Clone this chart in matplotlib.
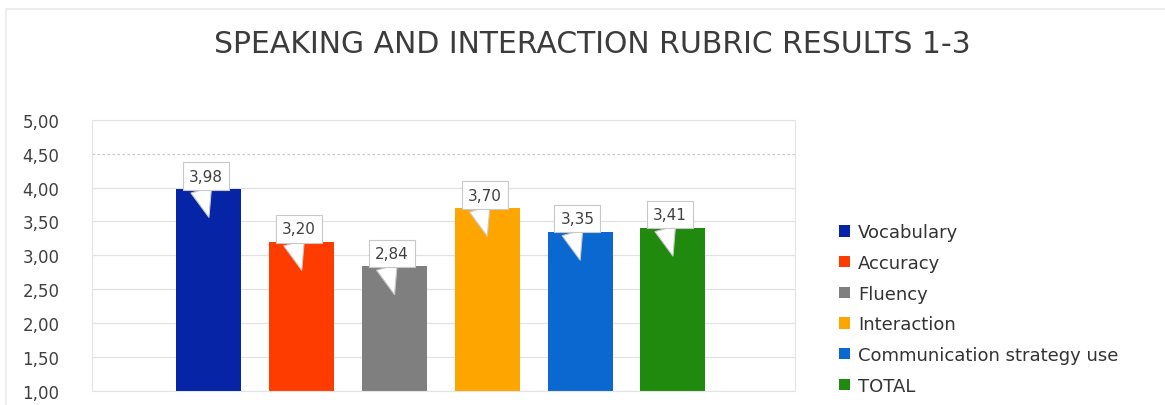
import numpy as np
import matplotlib.pyplot as plt
from matplotlib.patches import Rectangle

# rubric categories and mean scores
categories = ["Vocabulary", "Accuracy", "Fluency", "Interaction",
              "Communication strategy use", "TOTAL"]
scores = [3.98, 3.20, 2.84, 3.70, 3.35, 3.41]
labels = ["3,98", "3,20", "2,84", "3,70", "3,35", "3,41"]
colors = ["#0524A6", "#FF3C00", "#7F7F7F", "#FFA500", "#0B68D0", "#1F8A0E"]
yticks = [1.0, 1.5, 2.0, 2.5, 3.0, 3.5, 4.0, 4.5, 5.0]

fig = plt.figure(figsize=(11.65, 4.06), dpi=100)
ax = fig.add_axes([0.079, 0.0345, 0.603, 0.668])

# faint chart-area frame
fig.patches.append(Rectangle((0.005, -0.05), 1.1, 1.025, transform=fig.transFigure,
                             fill=False, ec="#ebebeb", lw=1.2, zorder=0))

x = np.arange(len(categories))
bars = ax.bar(x, np.array(scores) - 1.0, bottom=1.0, width=0.70,
              color=colors, label=categories, zorder=2)

ax.set_xlim(-1.26, 6.31)
ax.set_ylim(1.0, 5.0)
ax.set_yticks(yticks)
ax.set_yticklabels([f"{t:.2f}".replace(".", ",") for t in yticks],
                   fontsize=12, color="#404040")
ax.set_xticks([])
ax.tick_params(axis="y", length=0, pad=50)
for lab in ax.get_yticklabels():
    lab.set_horizontalalignment("left")
for s in ax.spines.values():
    s.set_color("#e4e4e4")
    s.set_linewidth(0.8)
ax.yaxis.grid(True, color="#e2e2e2", linewidth=0.9, zorder=0)
ax.get_ygridlines()[7].set_linestyle((0, (2, 2)))
ax.get_ygridlines()[7].set_color("#c8c8c8")

# callout labels
for i, (v, t) in enumerate(zip(scores, labels)):
    ax.annotate(t, xy=(i, v - 0.42), xytext=(i - 0.03, v + 0.19),
                ha="center", va="center", fontsize=11, color="#404040",
                bbox=dict(boxstyle="square,pad=0.4", fc="white",
                          ec="#c8c8c8", lw=0.8),
                arrowprops=dict(arrowstyle="wedge,tail_width=1.4,shrink_factor=0.5",
                                fc="white", ec="#c8c8c8", lw=0.8,
                                relpos=(0.3, 0.0), shrinkA=0, shrinkB=0),
                zorder=5)

fig.text(0.508, 0.89, "SPEAKING AND INTERACTION RUBRIC RESULTS 1-3",
         ha="center", va="center", fontsize=21.5, color="#3c3c3c")

fig.legend(handles=bars.patches, labels=categories,
           loc="upper left", bbox_to_anchor=(0.714, 0.465),
           frameon=False, fontsize=13, labelcolor="#333333",
           handlelength=0.6, handleheight=0.6, handletextpad=0.45,
           labelspacing=0.7, borderaxespad=0)

fig.savefig("out.png", dpi=100, facecolor="white")
